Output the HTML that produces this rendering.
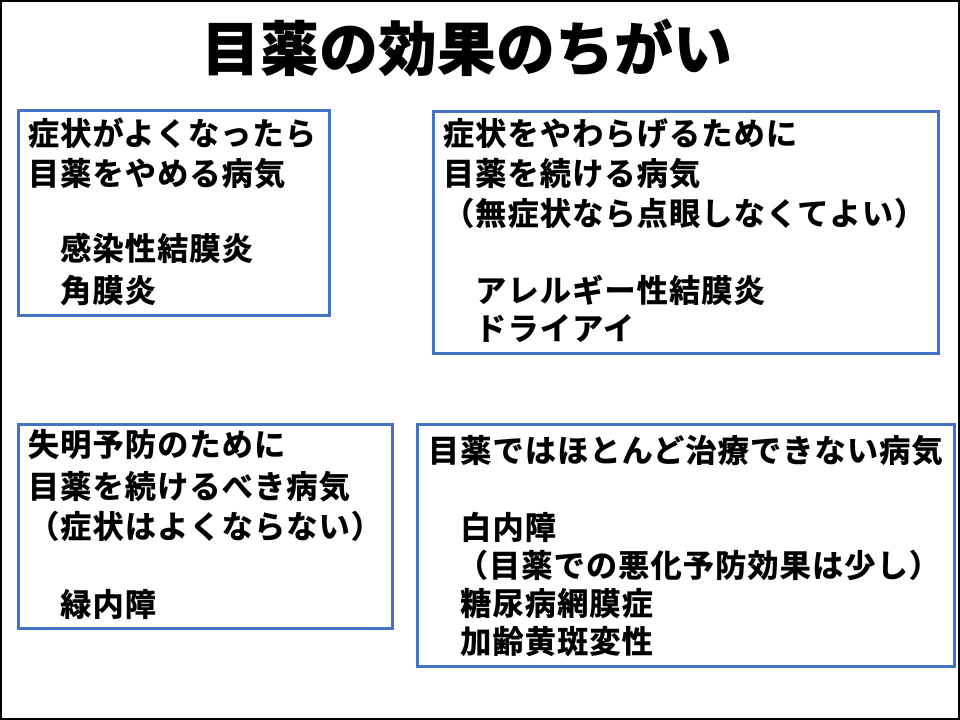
<!DOCTYPE html>
<html><head><meta charset="utf-8"><style>
html,body{margin:0;padding:0;background:#fff;}
#p{position:relative;width:956px;height:716px;border:2px solid #000;overflow:hidden;background:#fff;
font-family:"Liberation Sans","Noto Sans CJK JP",sans-serif;font-weight:bold;color:#000;}
.b{position:absolute;border:3px solid #4472C4;box-sizing:border-box;}
.t{position:absolute;font-size:31px;line-height:40px;white-space:pre;letter-spacing:1.3px;-webkit-text-stroke:0.6px #000;}
.h{position:absolute;left:0;width:930px;text-align:center;top:14px;font-size:58px;line-height:70px;font-weight:900;letter-spacing:1px;-webkit-text-stroke:0.8px #000;}
</style></head><body><div id="p">
<div class="h">目薬の効果のちがい</div>

<div class="b" style="left:15px;top:107px;width:314px;height:208px"></div>
<div class="t" style="left:26px;top:113px">症状がよくなったら</div>
<div class="t" style="left:26px;top:153px">目薬をやめる病気</div>
<div class="t" style="left:26px;top:228px">　感染性結膜炎</div>
<div class="t" style="left:26px;top:270px">　角膜炎</div>

<div class="b" style="left:430px;top:108px;width:508px;height:245px"></div>
<div class="t" style="left:441px;top:113px">症状をやわらげるために</div>
<div class="t" style="left:441px;top:153px">目薬を続ける病気</div>
<div class="t" style="left:441px;top:193px">（無症状なら点眼しなくてよい）</div>
<div class="t" style="left:441px;top:270px">　アレルギー性結膜炎</div>
<div class="t" style="left:441px;top:308px">　ドライアイ</div>

<div class="b" style="left:15px;top:421px;width:377px;height:207px"></div>
<div class="t" style="left:26px;top:424px">失明予防のために</div>
<div class="t" style="left:26px;top:466px">目薬を続けるべき病気</div>
<div class="t" style="left:26px;top:506px">（症状はよくならない）</div>
<div class="t" style="left:26px;top:584px">　緑内障</div>

<div class="b" style="left:414px;top:421px;width:540px;height:245px"></div>
<div class="t" style="left:426px;top:430px">目薬ではほとんど治療できない病気</div>
<div class="t" style="left:426px;top:507px">　白内障</div>
<div class="t" style="left:438px;top:545px">　（目薬での悪化予防効果は少し）</div>
<div class="t" style="left:426px;top:583px">　糖尿病網膜症</div>
<div class="t" style="left:426px;top:621px">　加齢黄斑変性</div>
</div></body></html>
